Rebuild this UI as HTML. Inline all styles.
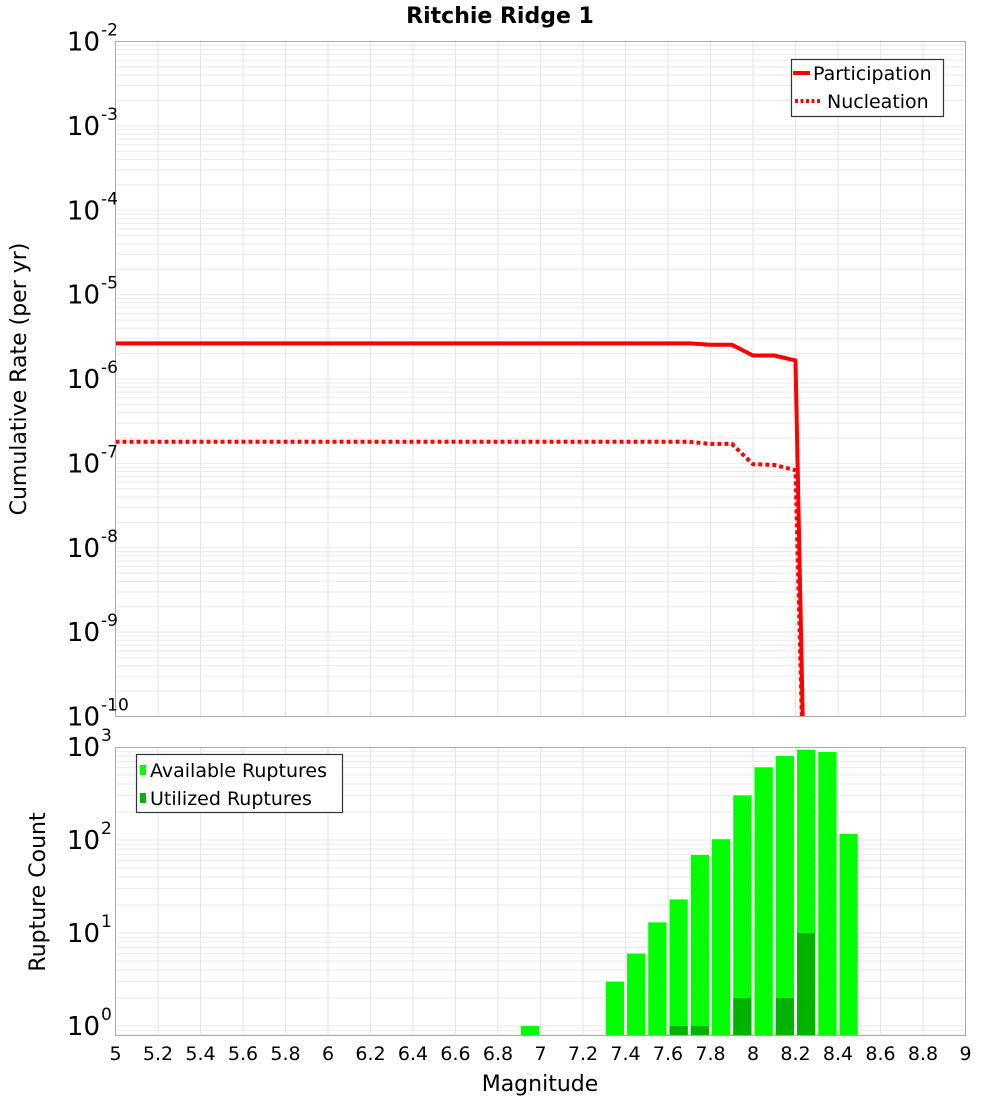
<!DOCTYPE html>
<html><head><meta charset="utf-8"><style>
body{margin:0;background:#fff;}
svg text{font-family:"DejaVu Sans","Liberation Sans",sans-serif;fill:#000;}
</style></head><body>
<svg id="chart" width="1000" height="1100" xmlns="http://www.w3.org/2000/svg">
<text x="500" y="23" text-anchor="middle" font-size="22" font-weight="bold">Ritchie Ridge 1</text>
<g id="topChart"></g>
<g id="botChart"></g>
</svg>
<script>
const magTicks = [5,5.2,5.4,5.6,5.8,6,6.2,6.4,6.6,6.8,7,7.2,7.4,7.6,7.8,8,8.2,8.4,8.6,8.8,9];
const magTickLabels = ["5","5.2","5.4","5.6","5.8","6","6.2","6.4","6.6","6.8","7","7.2","7.4","7.6","7.8","8","8.2","8.4","8.6","8.8","9"];
const topDecades = [-2,-3,-4,-5,-6,-7,-8,-9,-10];
const botDecades = [0,1,2,3];
const partMags = [5,7.7,7.8,7.9,8.0,8.1,8.2,8.25];
const partRates = [2.64e-6,2.64e-6,2.55e-6,2.55e-6,1.9e-6,1.9e-6,1.66e-6,1e-12];
const nuclMags = [5,7.7,7.8,7.9,8.0,8.1,8.2,8.25];
const nuclRates = [1.8e-7,1.8e-7,1.7e-7,1.7e-7,9.8e-8,9.6e-8,8.3e-8,1e-12];
const binMags = [6.9,7.3,7.4,7.5,7.6,7.7,7.8,7.9,8.0,8.1,8.2,8.3,8.4];
const availCounts = [1,3,6,13,23,69,102,302,605,800,935,884,116];
const usedMags = [7.6,7.7,7.9,8.1,8.2];
const usedCounts = [1,1,2,2,10];

const NS="http://www.w3.org/2000/svg";
const L=115.5,R=965.5;
const x=m=>L+(m-5)*(R-L)/4;
const T1=41.5,B1=716.5;
const y1=v=>T1+(-2-Math.log10(v))*(B1-T1)/8;
const T2=747.5,B2=1035.5,Y0=1026;
const y2=v=>Y0-Math.log10(v)*93;
function el(p,tag,a,txt){const e=document.createElementNS(NS,tag);for(const k in a)e.setAttribute(k,a[k]);if(txt!==undefined)e.textContent=txt;p.appendChild(e);return e;}
const topG=document.getElementById('topChart'),botG=document.getElementById('botChart');

function grid(g,T,B,yf,decs,clipId){
  const cp=el(g,'clipPath',{id:clipId});el(cp,'rect',{x:L,y:T,width:R-L,height:B-T});
  const gg=el(g,'g',{'clip-path':`url(#${clipId})`});
  
  
  const lo=Math.min(...decs)-1,hi=Math.max(...decs)+1;
  for(let d=lo;d<=hi;d++)for(let k=1;k<10;k++){
    const yy=yf(k*Math.pow(10,d));
    if(yy>=T&&yy<=B)el(gg,'line',{x1:L,x2:R,y1:yy,y2:yy,stroke:'#e9e9e9','stroke-width':1});
  }
  magTicks.forEach(m=>el(gg,'line',{x1:x(m),x2:x(m),y1:T,y2:B,stroke:'#e6e6e6','stroke-width':1}));
  return gg;
}
function ylabels(g,yf,decs,name){
  decs.forEach(d=>{
    const yy=yf(Math.pow(10,d));
    const t=el(g,'text',{x:100,y:yy+9,'font-size':26,'text-anchor':'end'},'10');
    
    
    el(g,'text',{x:101,y:yy-6,'font-size':17},String(d));
  });
}
const gTop=grid(topG,T1,B1,y1,topDecades,'c1');
function pathOf(ms,vs){return ms.map((m,i)=>(i?'L':'M')+x(m).toFixed(1)+','+y1(vs[i]).toFixed(1)).join(' ');}
const pl=el(gTop,'path',{d:pathOf(partMags,partRates),fill:'none',stroke:'#ff0000','stroke-width':4,'stroke-linejoin':'round'});


const nl=el(gTop,'path',{d:pathOf(nuclMags,nuclRates),fill:'none',stroke:'#ff0000','stroke-width':4,'stroke-dasharray':'4,3'});


el(topG,'rect',{x:L,y:T1,width:R-L,height:B1-T1,fill:'none',stroke:'#aaa','stroke-width':1});
ylabels(topG,y1,topDecades,'rate');
const yt=el(topG,'text',{x:0,y:0,'font-size':22,'text-anchor':'middle',transform:'translate(26,379) rotate(-90)'},'Cumulative Rate (per yr)');


const lg=el(topG,'g',{});


el(lg,'rect',{x:791.5,y:59.5,width:152,height:57,fill:'#fff',stroke:'#333','stroke-width':1.2});
el(lg,'line',{x1:793,x2:810,y1:73,y2:73,stroke:'#f00','stroke-width':4});
el(lg,'text',{x:813,y:80,'font-size':19},'Participation');
el(lg,'line',{x1:795,x2:820,y1:101,y2:101,stroke:'#f00','stroke-width':4,'stroke-dasharray':'3,2.5'});
el(lg,'text',{x:827,y:108,'font-size':19},'Nucleation');

const gBot=grid(botG,T2,B2,y2,botDecades,'c2');
binMags.forEach((m,i)=>{
  const r=el(gBot,'rect',{x:x(m)+1.5,y:y2(availCounts[i]),width:x(m+0.1)-x(m)-3,height:B2-y2(availCounts[i]),fill:'#00ff00'});
  
  
});
usedMags.forEach((m,i)=>{
  const r=el(gBot,'rect',{x:x(m)+1.5,y:y2(usedCounts[i]),width:x(m+0.1)-x(m)-3,height:B2-y2(usedCounts[i]),fill:'#00b300'});
  
  
});
el(botG,'rect',{x:L,y:T2,width:R-L,height:B2-T2,fill:'none',stroke:'#aaa','stroke-width':1});
ylabels(botG,y2,botDecades,'count');
magTicks.forEach((m,i)=>{
  const t=el(botG,'text',{x:x(m),y:1060,'font-size':19,'text-anchor':'middle'},magTickLabels[i]);
  
  
});
const xt=el(botG,'text',{x:540,y:1091,'font-size':22,'text-anchor':'middle'},'Magnitude');


const yt2=el(botG,'text',{x:0,y:0,'font-size':22,'text-anchor':'middle',transform:'translate(45,892) rotate(-90)'},'Rupture Count');


const lg2=el(botG,'g',{});


el(lg2,'rect',{x:136.5,y:754.5,width:206,height:58,fill:'#fff',stroke:'#333','stroke-width':1.2});
el(lg2,'rect',{x:140,y:765,width:6,height:10,fill:'#00ff00'});
el(lg2,'text',{x:150,y:777,'font-size':19},'Available Ruptures');
el(lg2,'rect',{x:140,y:793,width:6,height:10,fill:'#00b300'});
el(lg2,'text',{x:150,y:805,'font-size':19},'Utilized Ruptures');
</script>
</body></html>
